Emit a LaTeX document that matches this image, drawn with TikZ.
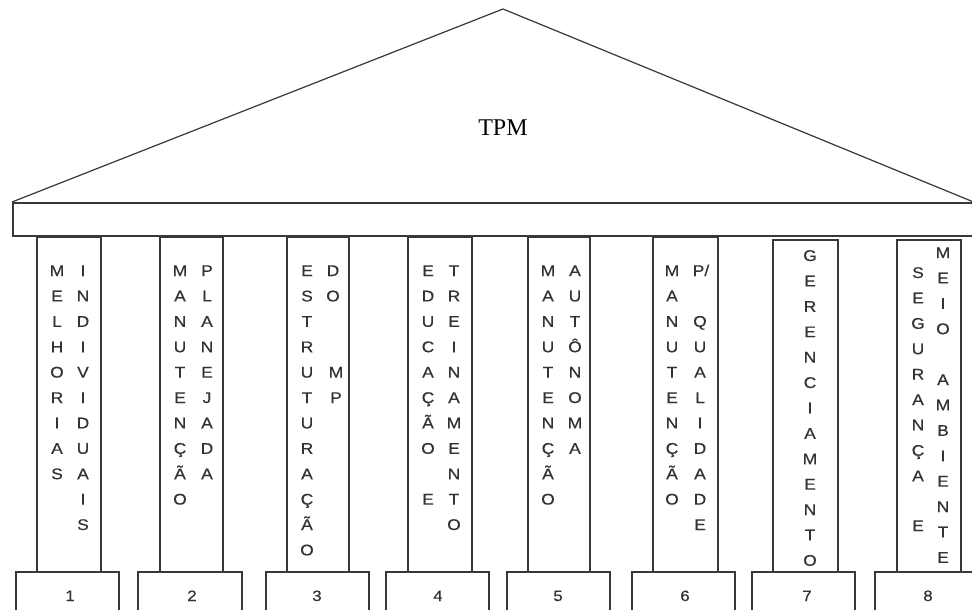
\documentclass[tikz,border=0pt]{standalone}
\usepackage{fontspec}
\setmainfont{Liberation Serif}
\newfontfamily\arialf[FakeStretch=1.12,FakeBold=0.6]{Liberation Sans}
\tikzset{
  ln/.style={line width=1.4pt, draw=black!78},
  ltr/.style={font=\arialf\fontsize{15.5}{16}\selectfont, inner sep=0pt, anchor=base, text=black!80},
  num/.style={font=\arialf\fontsize{15}{16}\selectfont, inner sep=0pt, anchor=base, text=black!80}
}
\newcommand{\vcol}[4]{% name, x, y0, list
  \foreach \c [count=\i from 0] in {#4} {
    \node[ltr] (#1-\i) at (#2, #3+6+25.4*\i) {\c};
  }
}
\begin{document}
\begin{tikzpicture}[x=1pt,y=-1pt]
\clip (0,0) rectangle (972,610);
\fill[white] (0,0) rectangle (972,610);
% roof
\coordinate (rl) at (12,202);
\coordinate (ra) at (503,9);
\coordinate (rr) at (976,203);
\draw[ln, line width=1.2pt, line join=miter] (rl) -- (ra) -- (rr);
\node[font=\fontsize{24}{26}\selectfont, inner sep=0pt] (tpm) at (503,128) {TPM};
% entablature
\draw[ln] (13,203) rectangle (990,236);
% pillars
\foreach \a/\b/\t [count=\k] in {37/101/237, 160/223/237, 287/349/237, 408/472/237, 528/590/237, 653/718/237, 773/838/240, 897/961/240} {
  \draw[ln, line width=1.7pt] (\a,\t) rectangle (\b,572);
}
% bases
\foreach \a/\b/\n/\x in {16/119/1/70, 138/242/2/192, 266/369/3/317, 386/489/4/438, 507/610/5/558, 632/735/6/685, 752/855/7/807, 875/985/8/928} {
  \draw[ln] (\a,572) rectangle (\b,620);
  \node[num] (n\n) at (\x,601) {\n};
}
% pillar 1
\vcol{p1a}{57}{270}{M,E,L,H,O,R,I,A,S}
\vcol{p1b}{83}{270}{I,N,D,I,V,I,D,U,A,I,S}
% pillar 2
\vcol{p2a}{180}{270}{M,A,N,U,T,E,N,Ç,Ã,O}
\vcol{p2b}{207}{270}{P,L,A,N,E,J,A,D,A}
% pillar 3
\vcol{p3a}{307}{270}{E,S,T,R,U,T,U,R,A,Ç,Ã,O}
\vcol{p3b}{333}{270}{D,O}
\node[ltr] (p3c) at (336,276+25.4*4) {M};
\node[ltr] (p3d) at (336,276+25.4*5) {P};
% pillar 4
\vcol{p4a}{428}{270}{E,D,U,C,A,Ç,Ã,O}
\node[ltr] (p4e) at (428,276+25.4*9) {E};
\vcol{p4b}{454}{270}{T,R,E,I,N,A,M,E,N,T,O}
% pillar 5
\vcol{p5a}{548}{270}{M,A,N,U,T,E,N,Ç,Ã,O}
\vcol{p5b}{575}{270}{A,U,T,Ô,N,O,M,A}
% pillar 6
\vcol{p6a}{672}{270}{M,A,N,U,T,E,N,Ç,Ã,O}
\node[ltr] (p6p) at (701,276) {P/};
\vcol{p6b}{700}{320.8}{Q,U,A,L,I,D,A,D,E}
% pillar 7
\vcol{p7}{810}{255}{G,E,R,E,N,C,I,A,M,E,N,T,O}
% pillar 8
\vcol{p8a}{918}{272}{S,E,G,U,R,A,N,Ç,A}
\node[ltr] (p8e) at (918,278+25.3*10) {E};
\vcol{p8b}{943}{252}{M,E,I,O}
\vcol{p8c}{943}{379}{A,M,B,I,E,N,T,E}
\end{tikzpicture}
\end{document}
